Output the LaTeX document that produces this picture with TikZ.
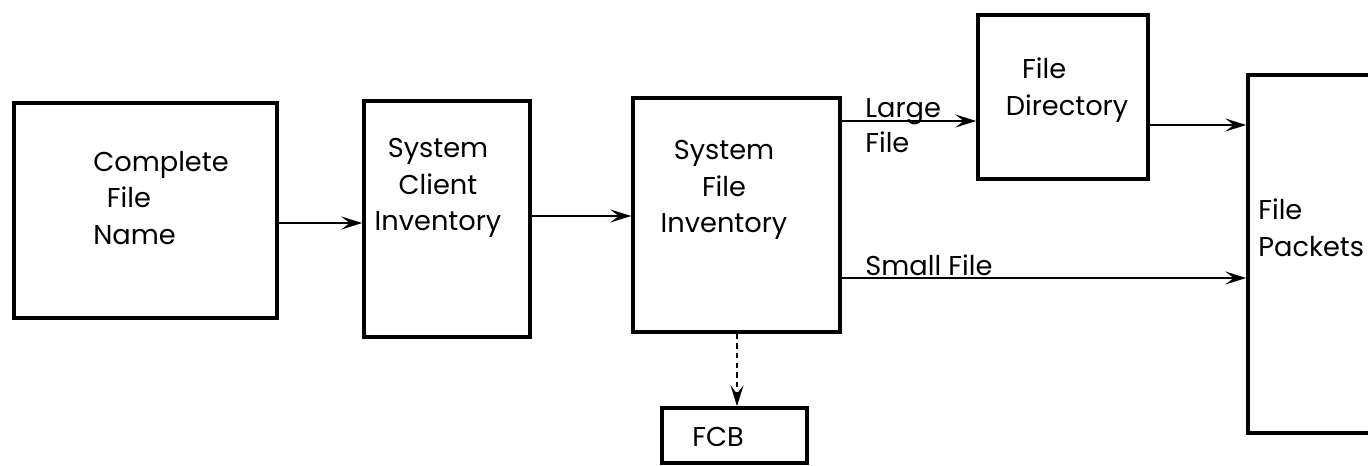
\documentclass[tikz,border=0pt]{standalone}
\usepackage{fontspec}
\setmainfont{Poppins}
\usetikzlibrary{arrows.meta}

\begin{document}
\begin{tikzpicture}[x=0.02cm, y=-0.02cm,
                    box/.style={draw, line width=2pt, inner sep=0pt},
                    txt/.style={align=left, inner sep=0pt,
                                font=\fontsize{15.5}{21}\selectfont},
                    flow/.style={line width=1.2pt,
                                 -{Stealth[length=0.42cm, width=0.26cm, inset=0.17cm]}}]
  \clip (0,0) rectangle (1368,466);
  % boxes
  \node[box, minimum width=5.26cm, minimum height=4.30cm] (cfn) at (145.5,210.5) {};
  \node[box, minimum width=3.32cm, minimum height=4.72cm] (sci) at (447,219) {};
  \node[box, minimum width=4.14cm, minimum height=4.68cm] (sfi) at (736.5,215) {};
  \node[box, minimum width=3.40cm, minimum height=3.28cm] (fd) at (1063,97) {};
  \node[box, minimum width=3.04cm, minimum height=7.16cm] (fp) at (1324,254) {};
  \node[box, minimum width=2.90cm, minimum height=1.10cm] (fcb) at (734.5,435.5) {};
  % texts
  \node[txt] (cfn-t) at (161,198) {Complete\\\hspace{0.5em}File\\Name};
  \node[txt, align=center] (sci-t) at (438,188) {System\\Client\\Inventory};
  \node[txt, align=center] (sfi-t) at (724,190) {System\\File\\Inventory};
  \node[txt] (fd-t) at (1067,90) {\hspace{0.6em}File\\Directory};
  \node[txt, anchor=west] (fp-t) at (1258,228) {File\\Packets};
  \node[txt] (fcb-t) at (718,437) {FCB};
  % connectors
  \draw[flow] (cfn.east |- 0,223) -- (sci.west |- 0,223);
  \draw[flow] (sci.east |- 0,216) -- (sfi.west |- 0,216);
  \draw[flow] (sfi.east |- 0,121) -- (fd.west |- 0,121);
  \draw[flow] (fd.east |- 0,125) -- (fp.west |- 0,125);
  \draw[flow] (sfi.east |- 0,278) -- (fp.west |- 0,278);
  \draw[flow, dash pattern=on 3pt off 2.5pt] (sfi.south -| 737,0) -- (fcb.north -| 737,0);
  % edge labels
  \node[txt, anchor=base west] (lg-a) at (865,117) {Large};
  \node[txt, anchor=base west] (lg-b) at (865,152) {File};
  \node[txt, anchor=base west] (sm) at (865,275) {Small File};
\end{tikzpicture}
\end{document}
